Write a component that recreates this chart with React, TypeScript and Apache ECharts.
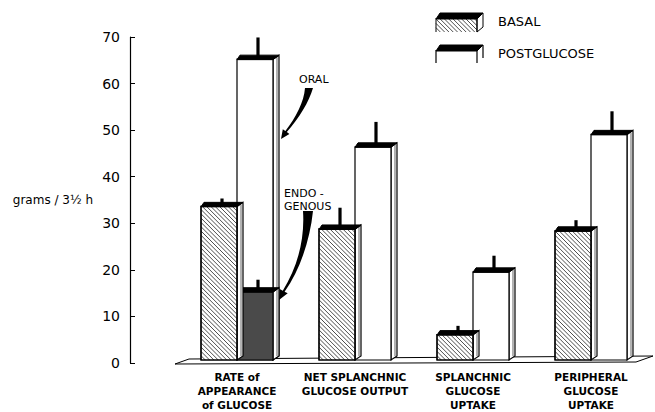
import React, { useEffect, useRef } from 'react';
import * as echarts from 'echarts';

const categories = [
  'RATE of\nAPPEARANCE\nof GLUCOSE',
  'NET SPLANCHNIC\nGLUCOSE OUTPUT',
  'SPLANCHNIC\nGLUCOSE\nUPTAKE',
  'PERIPHERAL\nGLUCOSE\nUPTAKE',
];
const basal = [33.3, 28.4, 5.5, 28.0];
const basalErrTop = [35.0, 33.0, 7.4, 30.3];
const postglucose = [65.2, 46.2, 19.1, 48.9];
const postErrTop = [69.9, 51.6, 22.6, 53.9];
const endogenousCat = [0];
const endogenous = [14.8];
const endogenousErrTop = [17.4];
const yMin = 0;
const yMax = 70;
const yInterval = 10;

const ORAL_PATH =
  'M 305 88 L 313 88 C 309 102, 299 118, 286.8 132.1 L 289.4 133.9 L 281 139 L 282.8 129.3 L 285.4 131.1 C 296 117, 304 102, 305 88 Z';
const ENDO_PATH =
  'M 303 211 L 313 211 C 310 240, 300 270, 284.6 291.7 L 287.7 293.3 L 279 300 L 279.7 289.1 L 282.8 290.7 C 297 268, 305 240, 303 211 Z';

echarts.graphic.registerShape('oralArrow', echarts.graphic.extendPath(ORAL_PATH, {}));
echarts.graphic.registerShape('endoArrow', echarts.graphic.extendPath(ENDO_PATH, {}));

const D = 6; // depth offset x
const H = 4; // depth offset y

function hatch(x0: number, y0: number, x1: number, y1: number, s: number, lw = 0.7) {
  const out: any[] = [];
  const hgt = y1 - y0;
  for (let c = x0 - hgt; c < x1; c += s) {
    const ys = Math.max(y0, y0 + (x0 - c));
    const ye = Math.min(y1, y0 + (x1 - c));
    if (ye - ys > 0.5) {
      out.push({
        type: 'line',
        shape: { x1: c + (ys - y0), y1: ys, x2: c + (ye - y0), y2: ye },
        style: { stroke: '#000', lineWidth: lw },
        silent: true,
      });
    }
  }
  return out;
}

function makeSeries(name: string, cats: number[], values: number[], errs: number[], kind: string, z: number) {
  return {
    type: 'custom',
    name,
    xAxisIndex: 1,
    yAxisIndex: 1,
    z,
    data: values.map((v, i) => [cats[i], v, errs[i]]),
    encode: { x: 0, y: [1, 2] },
    renderItem: (params: any, api: any) => {
      const cat = api.value(0);
      const v = api.value(1);
      const e = api.value(2);
      const [cx, yT] = api.coord([cat, v]);
      const yB = api.coord([cat, 0])[1];
      const yE = api.coord([cat, e])[1];
      const bw = api.size([1, 0])[0] * 0.305;
      const x0 = kind === 'basal' ? cx - bw : cx;
      const x1 = x0 + bw;
      const children: any[] = [];
      children.push({
        type: 'polygon',
        shape: { points: [[x1, yT], [x1 + D, yT - H], [x1 + D, yB - H], [x1, yB]] },
        style: { fill: '#fff', stroke: '#000', lineWidth: 1.2 },
      });
      children.push({
        type: 'line',
        shape: { x1: x1 + D - 2, y1: yT - H + 2, x2: x1 + D - 2, y2: yB - H },
        style: { stroke: '#000', lineWidth: 0.6 },
      });
      const fill = kind === 'endo' ? '#4a4a4a' : '#fff';
      children.push({
        type: 'rect',
        shape: { x: x0, y: yT, width: bw, height: yB - yT },
        style: { fill, stroke: '#000', lineWidth: 1.2 },
      });
      if (kind === 'basal') {
        children.push(...hatch(x0, yT, x1, yB, 4.3));
        children.push({
          type: 'rect',
          shape: { x: x0, y: yT, width: bw, height: yB - yT },
          style: { fill: 'none', stroke: '#000', lineWidth: 1.2 },
        });
      }
      children.push({
        type: 'polygon',
        shape: { points: [[x0, yT + 0.5], [x0 + D * 0.5, yT - H], [x1 + D, yT - H], [x1, yT + 0.5]] },
        style: { fill: '#000', stroke: '#000', lineWidth: 1 },
      });
      const ex = (x0 + x1) / 2 + D / 2;
      children.push({
        type: 'rect',
        shape: { x: ex - 1.6, y: yE, width: 3.2, height: yT - H / 2 - yE },
        style: { fill: '#000' },
      });
      return { type: 'group', children };
    },
  };
}

const legendBasal = [
  ...hatch(436, 18, 477, 32, 4.3, 0.7),
  { type: 'polygon', shape: { points: [[477, 18], [483, 13], [483, 27], [477, 32]] }, style: { fill: '#fff', stroke: '#000', lineWidth: 1 } },
  { type: 'polygon', shape: { points: [[436, 19], [440, 13], [483, 13], [477, 19]] }, style: { fill: '#000', stroke: '#000', lineWidth: 1 } },
  { type: 'line', shape: { x1: 436, y1: 18, x2: 436, y2: 32 }, style: { stroke: '#000', lineWidth: 1 } },
  { type: 'line', shape: { x1: 477, y1: 18, x2: 477, y2: 32 }, style: { stroke: '#000', lineWidth: 1 } },
];
const legendPost = [
  { type: 'polygon', shape: { points: [[436, 51], [440, 45], [483, 45], [477, 51]] }, style: { fill: '#000', stroke: '#000', lineWidth: 1 } },
  { type: 'line', shape: { x1: 436, y1: 50, x2: 436, y2: 63 }, style: { stroke: '#000', lineWidth: 1.2 } },
  { type: 'line', shape: { x1: 477, y1: 50, x2: 477, y2: 63 }, style: { stroke: '#000', lineWidth: 1.2 } },
  { type: 'line', shape: { x1: 483, y1: 45, x2: 483, y2: 58 }, style: { stroke: '#000', lineWidth: 1.2 } },
];

const textFont = { fontFamily: 'DejaVu Sans', fill: '#000' };

const option: any = {
  animation: false,
  backgroundColor: '#fff',
  grid: [
    { left: 130, top: 37, width: 10, height: 326 },
    { left: 178, top: 37, width: 472, height: 326 },
  ],
  xAxis: [
    { gridIndex: 0, type: 'value', show: false },
    {
      gridIndex: 1,
      type: 'category',
      data: categories,
      axisLine: { show: false },
      axisTick: { show: false },
      axisLabel: {
        margin: 10,
        lineHeight: 14,
        fontSize: 10.5,
        fontWeight: 'bold',
        fontFamily: 'DejaVu Sans',
        color: '#000',
        interval: 0,
      },
    },
  ],
  yAxis: [
    {
      gridIndex: 0,
      type: 'value',
      min: yMin,
      max: yMax,
      interval: yInterval,
      name: 'grams / 3½ h',
      nameLocation: 'middle',
      nameRotate: 0,
      nameGap: 37,
      nameTextStyle: { fontFamily: 'DejaVu Sans', fontSize: 12, color: '#000' },
      axisLine: { show: true, lineStyle: { color: '#000', width: 1.2 } },
      axisTick: { show: true, inside: true, length: 5, lineStyle: { color: '#000', width: 1 } },
      axisLabel: { margin: 10, fontSize: 14, fontFamily: 'DejaVu Sans', color: '#000' },
      splitLine: { show: false },
    },
    {
      gridIndex: 1,
      type: 'value',
      min: yMin,
      max: yMax,
      interval: yInterval,
      show: false,
      splitLine: { show: false },
    },
  ],
  series: [
    makeSeries('POSTGLUCOSE', [0, 1, 2, 3], postglucose, postErrTop, 'post', 2),
    makeSeries('ENDOGENOUS', endogenousCat, endogenous, endogenousErrTop, 'endo', 3),
    makeSeries('BASAL', [0, 1, 2, 3], basal, basalErrTop, 'basal', 4),
  ],
  graphic: [
    {
      type: 'polygon',
      z: 1,
      shape: { points: [[175, 364], [189, 359], [653, 356], [636, 362]] },
      style: { fill: '#fff', stroke: '#000', lineWidth: 1 },
    },
    { type: 'group', z: 10, children: legendBasal },
    { type: 'group', z: 10, children: legendPost },
    { type: 'text', z: 10, x: 498, y: 21, style: { ...textFont, text: 'BASAL', fontSize: 13, verticalAlign: 'middle' } },
    { type: 'text', z: 10, x: 498, y: 53, style: { ...textFont, text: 'POSTGLUCOSE', fontSize: 13, verticalAlign: 'middle' } },
    { type: 'text', z: 10, x: 299, y: 79, style: { ...textFont, text: 'ORAL', fontSize: 11, verticalAlign: 'middle' } },
    {
      type: 'text', z: 10, x: 284, y: 187,
      style: { ...textFont, text: 'ENDO -\nGENOUS', fontSize: 11, lineHeight: 13, verticalAlign: 'top' },
    },
    { type: 'oralArrow', z: 10, x: 0, y: 0, style: { fill: '#000' } },
    { type: 'endoArrow', z: 10, x: 0, y: 0, style: { fill: '#000' } },
  ],
};

export default function App() {
  const ref = useRef<HTMLDivElement>(null);
  useEffect(() => {
    const chart = echarts.init(ref.current!, null, { renderer: 'svg' });
    chart.setOption(option);
    return () => chart.dispose();
  }, []);
  return (
    <div
      ref={ref}
      style={{ position: 'fixed', left: 0, top: 0, width: 655, height: 412, background: '#fff' }}
    />
  );
}
